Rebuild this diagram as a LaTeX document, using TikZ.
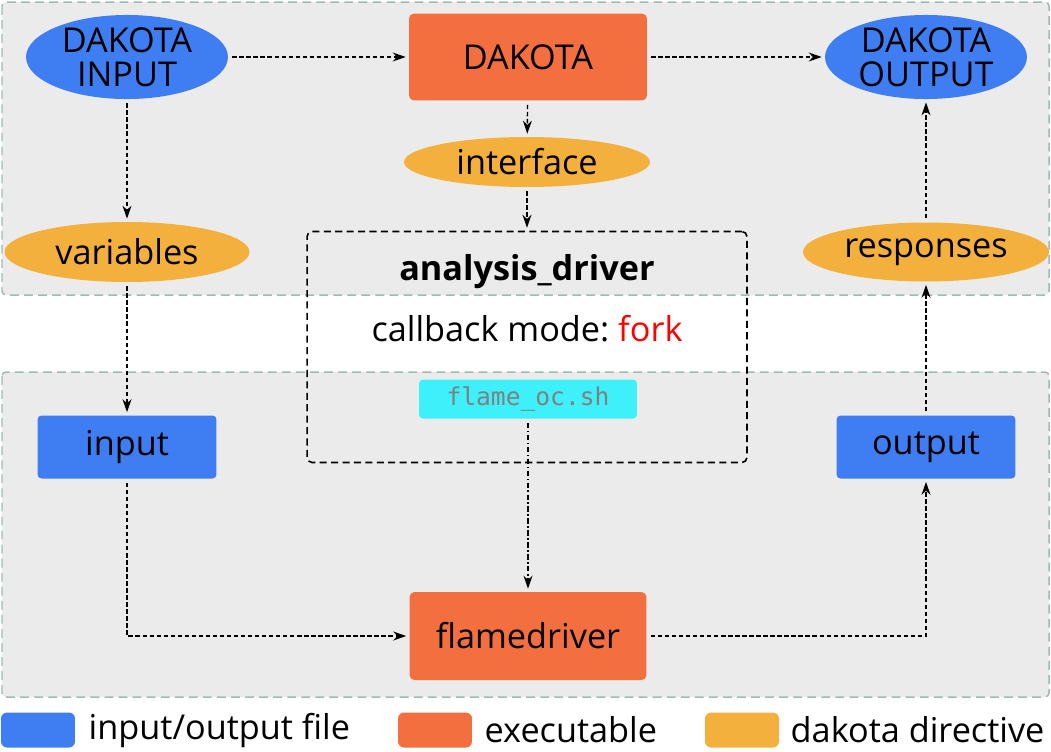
\documentclass[tikz,border=0pt]{standalone}
\usepackage{fontspec}
\setmainfont{Open Sans}
\setmonofont{DejaVu Sans Mono}
\frenchspacing
\usepackage{tikz}
\usetikzlibrary{shapes.geometric, arrows.meta, positioning}

\definecolor{iofill}{HTML}{3F7EF2}
\definecolor{exefill}{HTML}{F46F40}
\definecolor{dirfill}{HTML}{F4B03C}
\definecolor{scriptfill}{HTML}{3EF0FA}
\definecolor{groupfill}{HTML}{EBEBEB}
\definecolor{groupline}{HTML}{9FBAB0}
\definecolor{scripttext}{HTML}{808080}

\begin{document}
\begin{tikzpicture}[
            x=0.02cm, y=-0.02cm, % one unit is one pixel of the reference
            every node/.style={font=\fontsize{19.5}{19.5}\selectfont, align=center}, % Text of all nodes
            grouprect/.style={draw=groupline, fill=groupfill, line width=0.85pt, dash pattern=on 5pt off 3pt, rounded corners=0.08cm},
            ioellipse/.style={ellipse, fill=iofill, inner sep=0pt, minimum width=4.04cm, minimum height=1.68cm},
            iobox/.style={rectangle, fill=iofill, rounded corners=0.08cm, minimum width=3.58cm, minimum height=1.26cm},
            exebox/.style={rectangle, fill=exefill, rounded corners=0.1cm},
            direllipse/.style={ellipse, fill=dirfill, inner sep=0pt},
            drivbox/.style={rectangle, draw, line width=0.9pt, dash pattern=on 4pt off 2.5pt, rounded corners=0.1cm, minimum width=8.8cm, minimum height=4.62cm},
            keybox/.style={rectangle, rounded corners=0.12cm, minimum width=1.48cm, minimum height=0.7cm},
            flow/.style={line width=0.8pt, dash pattern=on 2.5pt off 1.5pt, -{Stealth[length=0.26cm, width=0.18cm]}, shorten <=0.08cm, shorten >=0.06cm}
            ]
        \useasboundingbox (0,0) rectangle (1051,751);

        % Background groups
        \draw[grouprect] (2,2) rectangle (1049,295);
        \draw[grouprect] (2,372) rectangle (1049,697);

        % Dakota side
        \node[ioellipse] (dkin) at (127,57) {DAKOTA\\INPUT};
        \node[exebox, minimum width=4.76cm, minimum height=1.74cm] (dakota) at (528,57) {DAKOTA};
        \node[ioellipse] (dkout) at (926,57) {DAKOTA\\OUTPUT};
        \node[direllipse, minimum width=4.92cm, minimum height=1.0cm] (iface) at (527,162) {interface};
        \node[direllipse, minimum width=4.9cm, minimum height=1.2cm] (vars) at (127,252) {variables};
        \node[direllipse, minimum width=4.92cm, minimum height=1.18cm] (resp) at (926,252) {responses};

        % Analysis driver
        \node[drivbox] (driver) at (527,347) {};
        \node[font=\fontsize{19.5}{19.5}\bfseries\selectfont] (drvname) at (527,272) {analysis\_driver};
        \node (mode) at (527,329) {callback mode: \textcolor{red}{fork}};
        \node[rectangle, fill=scriptfill, rounded corners=0.08cm, minimum width=4.36cm, minimum height=0.78cm,
              font=\fontsize{14}{16}\ttfamily\selectfont, text=scripttext] (script) at (528,399) {flame\_oc.sh};

        % Simulation side
        \node[iobox] (input) at (127,447) {input};
        \node[iobox] (output) at (926,447) {output};
        \node[exebox, minimum width=4.74cm, minimum height=1.76cm] (flame) at (528,636) {flamedriver};

        % Connectors
        \draw[flow] (dkin) -- (dakota);
        \draw[flow] (dakota) -- (dkout);
        \draw[flow] (dkin) -- (vars);
        \draw[flow] (dakota) -- (iface);
        \draw[flow] (iface) -- (driver);
        \draw[flow] (vars) -- (input);
        \draw[flow] (input) |- (flame);
        \draw[flow] (flame) -| (output);
        \draw[flow] (output) -- (resp);
        \draw[flow] (resp) -- (dkout);
        \draw[flow, dash pattern=on 3pt off 1.5pt on 0.8pt off 1.5pt] (script) -- (flame);

        % Legend
        \node[keybox, fill=iofill] (keyio) at (38,730) {};
        \node[inner sep=0pt, right=0.26cm of keyio] (labio) {input/output file};
        \node[keybox, fill=exefill] (keyexe) at (435,730) {};
        \node[inner sep=0pt, right=0.24cm of keyexe] (labexe) {executable};
        \node[keybox, fill=dirfill] (keydir) at (742,730) {};
        \node[inner sep=0pt, right=0.22cm of keydir] (labdir) {dakota directive};

\end{tikzpicture}
\end{document}
